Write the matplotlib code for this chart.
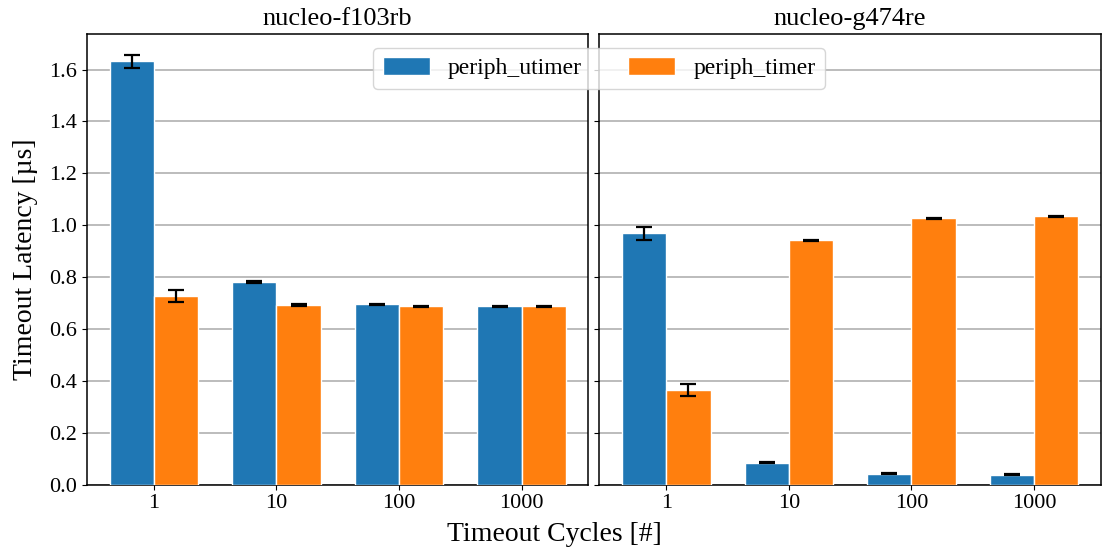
#!/usr/bin/env python3
"""
Timeout latency of periph_utimer vs periph_timer on two nucleo boards.
"""
import numpy as np
import matplotlib
matplotlib.use("Agg")
import matplotlib.pyplot as plt

boards = ["nucleo-f103rb", "nucleo-g474re"]
cycles = ["1", "10", "100", "1000"]
series = ["periph_utimer", "periph_timer"]

# mean latency [us] and error, per board: [utimer, timer]
f103_utimer = [1.631, 0.781, 0.696, 0.688]
f103_utimer_err = [0.024, 0.003, 0.002, 0.002]
f103_timer = [0.727, 0.692, 0.688, 0.688]
f103_timer_err = [0.023, 0.003, 0.002, 0.002]

g474_utimer = [0.969, 0.085, 0.042, 0.038]
g474_utimer_err = [0.024, 0.003, 0.002, 0.002]
g474_timer = [0.365, 0.942, 1.027, 1.035]
g474_timer_err = [0.023, 0.003, 0.002, 0.002]


def main():
    plt.rcParams["font.family"] = ["Liberation Serif", "DejaVu Serif"]
    plt.rcParams["font.size"] = 16
    plt.rcParams["axes.linewidth"] = 1.1

    fig, axes = plt.subplots(1, 2, figsize=(11.02, 5.54), dpi=100, sharey=True)
    fig.subplots_adjust(left=0.079, right=0.999, top=0.939, bottom=0.125, wspace=0.022)

    data = [
        ((f103_utimer, f103_utimer_err), (f103_timer, f103_timer_err)),
        ((g474_utimer, g474_utimer_err), (g474_timer, g474_timer_err)),
    ]
    x = np.arange(len(cycles))
    width = 0.36
    for ax, board, pairs in zip(axes, boards, data):
        for i, ((vals, errs), name) in enumerate(zip(pairs, series)):
            offset = (i - 0.5) * width
            ax.bar(x + offset, vals, width, yerr=errs, color=f"C{i}",
                   edgecolor="white", linewidth=1, label=name, capsize=6,
                   error_kw={"elinewidth": 1.6, "capthick": 1.6}, zorder=3)
        ax.set_xticks(x)
        ax.set_xticklabels(cycles)
        ax.set_title(board, fontsize=19)
        ax.yaxis.grid(True, color="#b0b0b0", linewidth=1.2, zorder=0)
        ax.set_axisbelow(True)

    axes[0].set_ylabel("Timeout Latency [µs]", fontsize=20, labelpad=8)
    fig.text(0.503, 0.012, "Timeout Cycles [#]", ha="center", va="bottom", fontsize=20)

    handles, labels = axes[0].get_legend_handles_labels()
    fig.legend(handles, labels, loc="upper center", ncol=2,
               bbox_to_anchor=(0.5436, 0.935), handlelength=2.0,
               handleheight=0.75, handletextpad=0.76, columnspacing=1.95,
               fontsize=17)

    fig.savefig("out.png", dpi=100)


if __name__ == "__main__":
    main()
